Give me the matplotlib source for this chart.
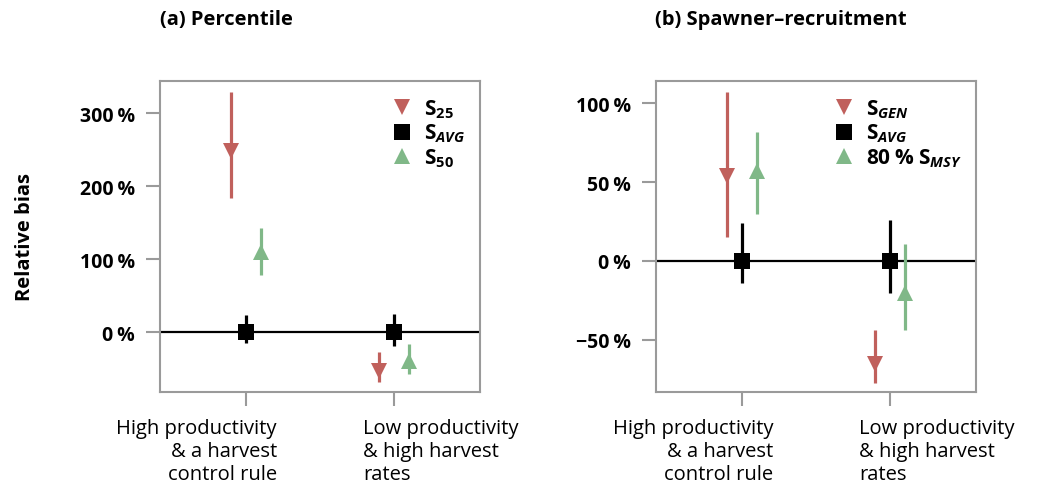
import matplotlib
matplotlib.use("Agg")
import matplotlib.pyplot as plt
from matplotlib.lines import Line2D
import matplotlib.transforms as mtransforms

plt.rcParams['font.family'] = ['Open Sans', 'DejaVu Sans']
plt.rcParams['mathtext.fontset'] = 'custom'
plt.rcParams['mathtext.rm'] = 'Open Sans:bold'
plt.rcParams['mathtext.it'] = 'Open Sans:italic:bold'
plt.rcParams['mathtext.bf'] = 'Open Sans:bold'

RED = "#c0605c"
GREEN = "#80b888"
GRAY = "#9a9a9a"

# data (relative bias, %)
groups = ["High productivity\n& a harvest\ncontrol rule", "Low productivity\n& high harvest\nrates"]
xpos = [1, 2]

# (a) percentile
pct_s25 = [248, -53]
pct_s25_lo = [184, -68]
pct_s25_hi = [329, -27]
pct_savg = [0, 0]
pct_savg_lo = [-15, -19]
pct_savg_hi = [23, 25]
pct_s50 = [110, -40]
pct_s50_lo = [78, -58]
pct_s50_hi = [142, -16]

# (b) spawner-recruitment
sr_sgen = [54, -65]
sr_sgen_lo = [15, -77]
sr_sgen_hi = [107, -44]
sr_savg = [0, 0]
sr_savg_lo = [-14, -20]
sr_savg_hi = [24, 26]
sr_smsy = [57, -20]
sr_smsy_lo = [30, -44]
sr_smsy_hi = [82, 11]

fig = plt.figure(figsize=(10.38, 4.89), dpi=100)
ax_a = fig.add_axes([0.1541, 0.1963, 0.3083, 0.636])
ax_b = fig.add_axes([0.632, 0.1963, 0.3083, 0.636])


def draw(ax, series, labels, yticks, ylim):
    offsets = [-0.1, 0, 0.1]
    markers = ["v", "s", "^"]
    colors = [RED, "black", GREEN]
    sizes = [12, 11, 12]
    ax.axhline(0, color="black", lw=1.6, zorder=1)
    handles = []
    for (vals, lo, hi), off, m, c, s, lab in zip(series, offsets, markers, colors, sizes, labels):
        xs = [x + off for x in xpos]
        err = [[v - l for v, l in zip(vals, lo)], [h - v for v, h in zip(vals, hi)]]
        ax.errorbar(xs, vals, yerr=err, fmt=m, color=c, ms=s, elinewidth=2.3,
                    capsize=0, mew=0, zorder=3)
        handles.append(Line2D([], [], marker=m, color=c, ms=s, mew=0, ls="none", label=lab))
    ax.set_xlim(0.42, 2.58)
    ax.set_ylim(*ylim)
    ax.set_yticks(yticks)
    ax.set_yticklabels([f"{t}\u2009%".replace("-", "\u2212") for t in yticks],
                       fontsize=14, fontweight="bold")
    ax.set_xticks(xpos)
    ax.set_xticklabels([])
    for sp in ax.spines.values():
        sp.set_color(GRAY)
        sp.set_linewidth(1.5)
    ax.tick_params(axis="both", colors=GRAY, length=10, width=1.5, pad=8, labelcolor="black")
    trans = mtransforms.blended_transform_factory(ax.transData, ax.transAxes)
    ax.text(1.21, -0.085, groups[0], transform=trans, ha="right", va="top",
            multialignment="right", fontsize=14.5, linespacing=1.2)
    ax.text(1.79, -0.085, groups[1], transform=trans, ha="left", va="top",
            multialignment="left", fontsize=14.5, linespacing=1.2)
    leg = ax.legend(handles=handles, loc="upper right", frameon=False,
                    prop={"size": 15, "weight": "bold"},
                    handletextpad=0.3, labelspacing=0.1, borderaxespad=0.3,
                    handlelength=1.5, bbox_to_anchor=(1.0, 0.995))
    return leg


draw(ax_a,
     [(pct_s25, pct_s25_lo, pct_s25_hi), (pct_savg, pct_savg_lo, pct_savg_hi),
      (pct_s50, pct_s50_lo, pct_s50_hi)],
     [r"S$_{\mathrm{25}}$", r"S$_{\mathit{AVG}}$", r"S$_{\mathrm{50}}$"],
     [0, 100, 200, 300], (-82, 344))
draw(ax_b,
     [(sr_sgen, sr_sgen_lo, sr_sgen_hi), (sr_savg, sr_savg_lo, sr_savg_hi),
      (sr_smsy, sr_smsy_lo, sr_smsy_hi)],
     [r"S$_{\mathit{GEN}}$", r"S$_{\mathit{AVG}}$", "80\u2009% " + r"S$_{\mathit{MSY}}$"],
     [-50, 0, 50, 100], (-83, 114))

fig.text(0.1541, 1 - 20 / 489, "(a) Percentile", fontsize=14.5, fontweight="bold",
         ha="left", va="center")
fig.text(0.631, 1 - 20 / 489, "(b) Spawner\u2013recruitment", fontsize=14.5, fontweight="bold",
         ha="left", va="center")
fig.text(25 / 1038, 1 - 237 / 489, "Relative bias", fontsize=14.5, fontweight="bold",
         rotation=90, ha="center", va="center")

fig.savefig("out.png", dpi=100)
